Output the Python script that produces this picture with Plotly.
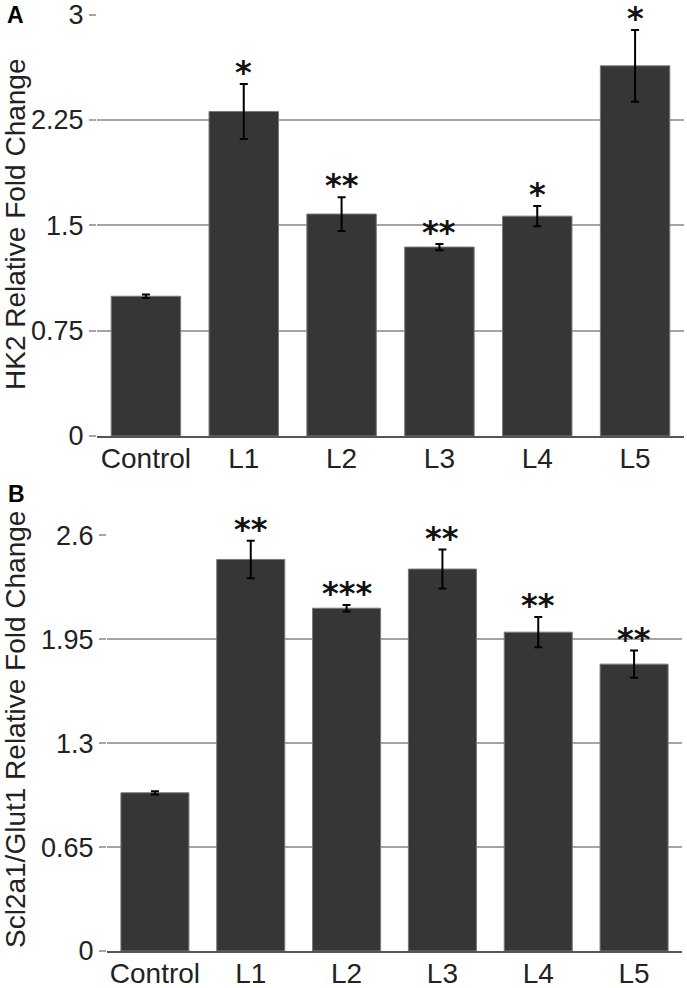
import plotly.graph_objects as go

categories = ["Control", "L1", "L2", "L3", "L4", "L5"]

hk2_values = [0.995, 2.31, 1.58, 1.345, 1.565, 2.635]
hk2_errors = [0.012, 0.195, 0.12, 0.022, 0.072, 0.255]
hk2_sig = ["", "*", "**", "**", "*", "*"]
hk2_ticks = [0, 0.75, 1.5, 2.25, 3]
hk2_ticktext = ["0", "0.75", "1.5", "2.25", "3"]

glut_values = [0.99, 2.45, 2.145, 2.39, 1.995, 1.795]
glut_errors = [0.01, 0.117, 0.02, 0.122, 0.095, 0.085]
glut_sig = ["", "**", "***", "**", "**", "**"]
glut_ticks = [0, 0.65, 1.3, 1.95, 2.6]
glut_ticktext = ["0", "0.65", "1.3", "1.95", "2.6"]

W, H = 687, 988
FONT = "Liberation Sans, Arial, sans-serif"
BAR = "#363636"

def px_x(p):
    return p / W

def px_y(p):
    return 1 - p / H

fig = go.Figure()

for vals, errs, xa, ya in [(hk2_values, hk2_errors, "x", "y"),
                           (glut_values, glut_errors, "x2", "y2")]:
    fig.add_trace(go.Bar(
        x=categories, y=vals, xaxis=xa, yaxis=ya,
        marker=dict(color=BAR, line=dict(color="#7a7a7a", width=1)),
        error_y=dict(type="data", array=errs, visible=True,
                     color="#000000", thickness=2, width=4),
        width=0.71, showlegend=False, cliponaxis=False,
    ))

annotations = []
for vals, errs, sig, xr, yr in [(hk2_values, hk2_errors, hk2_sig, "x", "y"),
                                (glut_values, glut_errors, glut_sig, "x2", "y2")]:
    for c, v, e, s in zip(categories, vals, errs, sig):
        if s:
            annotations.append(dict(
                x=c, y=v + e, xref=xr, yref=yr, text="<b>" + s + "</b>",
                showarrow=False, yanchor="middle", yshift=12,
                font=dict(family="DejaVu Sans", size=32, color="#111111"),
            ))

annotations += [
    dict(x=px_x(15), y=px_y(15), xref="paper", yref="paper", text="<b>A</b>",
         showarrow=False, xanchor="center", yanchor="middle",
         font=dict(family=FONT, size=23, color="#000")),
    dict(x=px_x(16), y=px_y(494), xref="paper", yref="paper", text="<b>B</b>",
         showarrow=False, xanchor="center", yanchor="middle",
         font=dict(family=FONT, size=23, color="#000")),
    dict(x=px_x(15), y=px_y(224), xref="paper", yref="paper",
         text="HK2 Relative Fold Change", textangle=-90, showarrow=False,
         xanchor="center", yanchor="middle",
         font=dict(family=FONT, size=28, color="#222")),
    dict(x=px_x(15), y=px_y(730), xref="paper", yref="paper",
         text="Scl2a1/Glut1 Relative Fold Change", textangle=-90, showarrow=False,
         xanchor="center", yanchor="middle",
         font=dict(family=FONT, size=28, color="#222")),
]

common_x = dict(
    type="category", showgrid=False, showline=True, linecolor="#555555",
    linewidth=2, ticks="", tickfont=dict(family=FONT, size=28, color="#222"),
    ticklabelstandoff=-4, fixedrange=True,
)
common_y = dict(
    showgrid=True, gridcolor="#a4a4a4", gridwidth=1.5, zeroline=False,
    showline=False, ticks="outside", ticklen=7, tickcolor="#a4a4a4",
    tickwidth=1.5, tickfont=dict(family=FONT, size=27, color="#222"),
    fixedrange=True,
)

fig.update_layout(
    width=W, height=H,
    margin=dict(l=0, r=0, t=0, b=0, autoexpand=False),
    paper_bgcolor="white", plot_bgcolor="white",
    bargap=0.29,
    xaxis=dict(domain=[px_x(97), px_x(684)], anchor="y", **common_x),
    yaxis=dict(domain=[px_y(436), px_y(14)], anchor="x", range=[0, 3.004],
               tickvals=hk2_ticks, ticktext=hk2_ticktext, **common_y),
    xaxis2=dict(domain=[px_x(107), px_x(682)], anchor="y2", **common_x),
    yaxis2=dict(domain=[px_y(951), px_y(535)], anchor="x2", range=[0, 2.603],
                tickvals=glut_ticks, ticktext=glut_ticktext, **common_y),
    annotations=annotations,
)

fig.write_html("out.html", config={"displayModeBar": False},
               post_script="document.body.style.margin='0px';document.body.style.overflow='hidden';")
